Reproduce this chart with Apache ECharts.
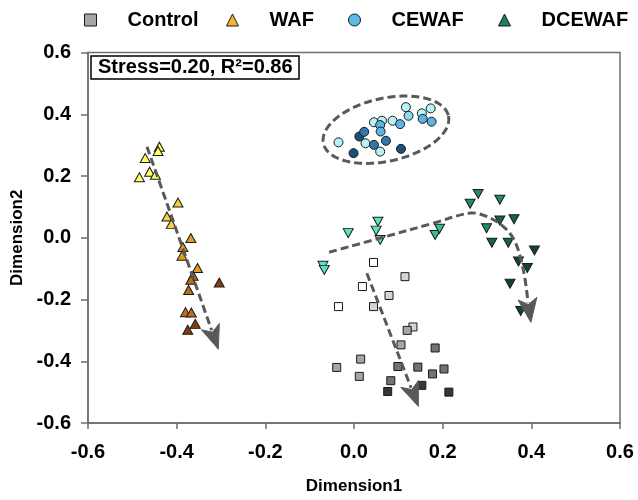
<!DOCTYPE html>
<html><head><meta charset="utf-8">
<script src="https://cdn.jsdelivr.net/npm/echarts@6/dist/echarts.min.js"></script>
<style>html,body{margin:0;padding:0;background:#fff}#c{width:638px;height:500px}</style>
</head><body><div id="c"></div>
<script>
// ---- data ----
const seriesNames = ['Control', 'WAF', 'CEWAF', 'DCEWAF'];
const xTicks = [-0.6, -0.4, -0.2, 0.0, 0.2, 0.4, 0.6];
const yTicks = [-0.6, -0.4, -0.2, 0.0, 0.2, 0.4, 0.6];

const controlX = [0.044,0.115,0.019,0.079,-0.035,0.044,0.133,0.120,0.106,0.183,0.015,-0.039,0.099,0.144,0.012,0.203,0.177,0.083,0.153,0.076,0.214];
const controlY = [-0.080,-0.126,-0.158,-0.187,-0.223,-0.223,-0.289,-0.300,-0.347,-0.357,-0.393,-0.420,-0.417,-0.419,-0.449,-0.425,-0.441,-0.463,-0.478,-0.498,-0.500];
const controlStage = [0,1,0,1,0,1,1,2,2,3,2,2,3,3,2,3,3,3,4,4,4];

const wafX = [-0.439,-0.442,-0.471,-0.461,-0.484,-0.448,-0.397,-0.422,-0.412,-0.368,-0.386,-0.388,-0.353,-0.363,-0.368,-0.373,-0.304,-0.380,-0.367,-0.358,-0.375];
const wafY = [0.295,0.281,0.258,0.214,0.196,0.204,0.114,0.069,0.045,-0.001,-0.030,-0.058,-0.098,-0.123,-0.136,-0.169,-0.145,-0.241,-0.242,-0.279,-0.298];
const wafStage = [0,0,0,0,0,0,1,1,1,2,2,2,2,3,3,3,4,3,3,4,4];

const cewafX = [-0.035,-0.001,0.012,0.023,0.026,0.045,0.059,0.072,0.045,0.063,0.059,0.060,0.087,0.104,0.117,0.123,0.153,0.173,0.155,0.175,0.106];
const cewafY = [0.309,0.274,0.328,0.343,0.306,0.301,0.279,0.314,0.374,0.379,0.365,0.344,0.379,0.368,0.423,0.395,0.403,0.419,0.385,0.376,0.288];
const cewafStage = [0,4,4,3,0,3,0,3,0,0,2,2,0,2,0,1,0,0,2,2,4];

const dcewafX = [-0.070,-0.067,-0.013,0.054,0.050,0.059,0.183,0.193,0.262,0.280,0.329,0.299,0.329,0.361,0.311,0.348,0.407,0.371,0.391,0.352,0.376];
const dcewafY = [-0.091,-0.104,0.015,0.052,0.023,-0.007,0.009,0.029,0.110,0.142,0.123,0.031,0.056,0.060,-0.016,-0.016,-0.041,-0.077,-0.098,-0.149,-0.237];
const dcewafStage = [0,0,0,0,0,0,1,1,2,2,2,2,3,3,3,3,4,4,4,4,4];

// trend arrows (data units)
const wafArrow = [[-0.467,0.295],[-0.306,-0.361]];
const controlArrow = [[0.029,-0.115],[0.145,-0.546]];
const dcewafArrow = [[-0.056,-0.047],[0.059,-0.001],[0.179,0.047],[0.262,0.080],[0.299,0.069],[0.337,0.036],[0.363,-0.012],[0.382,-0.104],[0.399,-0.274]];
const cewafEllipseCenter = [0.072, 0.350];

const stressText = 'Stress=0.20, R\u00B2=0.86';

// ---- styles ----
const palettes = {
  Control: ['#FFFFFF','#D4D4D4','#A6A6A6','#737373','#363636'],
  WAF: ['#FFFF66','#F7CF3A','#E29A22','#BF6D1A','#8A3C0C'],
  CEWAF: ['#B8F1F7','#8ED8F0','#5AB3E0','#2E78AE','#16507C'],
  DCEWAF: ['#5CE3C3','#38BE9A','#1F8C6B','#156448','#0E4634']
};
const legendColors = { Control:'#A6A6A6', WAF:'#F2B630', CEWAF:'#5DBBEA', DCEWAF:'#1E7F5C' };
const FONT = '"Liberation Sans", Arial, sans-serif';

function mk(xs, ys, st, pal) {
  return xs.map((x, i) => ({ value: [x, ys[i]], itemStyle: { color: pal[st[i]] } }));
}

const chart = echarts.init(document.getElementById('c'), null, { renderer: 'canvas' });

function scatter(name, xs, ys, st, symbol, size, rot) {
  return {
    name, type: 'scatter', symbol, symbolSize: size, symbolRotate: rot || 0,
    itemStyle: { color: legendColors[name], borderColor: '#1a1a1a', borderWidth: 1, opacity: 1 },
    emphasis: { disabled: true },
    data: mk(xs, ys, st, palettes[name]), z: 3
  };
}

const legendLefts = [79, 221, 343, 493];
const axisLabelStyle = { fontFamily: FONT, fontWeight: 'bold', fontSize: 20, color: '#000' };
const nameStyle = { fontFamily: FONT, fontWeight: 'bold', fontSize: 17, color: '#000' };

chart.setOption({
  animation: false,
  title: {
    text: stressText, left: 91, top: 56,
    padding: [1, 7, 1, 7], borderColor: '#000', borderWidth: 1.5,
    textStyle: { fontFamily: FONT, fontWeight: 'bold', fontSize: 20, lineHeight: 21, color: '#000' }
  },
  legend: seriesNames.map((n, i) => ({
    data: [{ name: n, itemStyle: { color: legendColors[n], borderColor: '#1a1a1a', borderWidth: 1 } }],
    left: legendLefts[i], top: 5, itemWidth: 12, itemHeight: 12, selectedMode: false,
    textStyle: { fontFamily: FONT, fontWeight: 'bold', fontSize: 20, color: '#000', padding: [0, 0, 0, 26] }
  })),
  grid: { left: 88, right: 18, top: 52.5, bottom: 76.7, show: true, borderColor: '#6e6e6e', borderWidth: 1.5, backgroundColor: 'transparent' },
  xAxis: {
    type: 'value', min: xTicks[0], max: xTicks[xTicks.length - 1], interval: 0.2,
    axisLine: { show: true, onZero: false, lineStyle: { color: '#6e6e6e', width: 1.5 } },
    axisTick: { show: true, length: 6, lineStyle: { color: '#6e6e6e', width: 1.5 } },
    splitLine: { show: false },
    axisLabel: Object.assign({ margin: 19, formatter: v => v.toFixed(1) }, axisLabelStyle),
    name: 'Dimension1', nameLocation: 'middle', nameGap: 55, nameTextStyle: nameStyle
  },
  yAxis: {
    type: 'value', min: yTicks[0], max: yTicks[yTicks.length - 1], interval: 0.2,
    axisLine: { show: true, onZero: false, lineStyle: { color: '#6e6e6e', width: 1.5 } },
    axisTick: { show: true, length: 7, lineStyle: { color: '#6e6e6e', width: 1.5 } },
    splitLine: { show: false },
    axisLabel: Object.assign({ margin: 17, formatter: v => v.toFixed(1) }, axisLabelStyle),
    name: 'Dimension2', nameLocation: 'middle', nameGap: 60, nameTextStyle: nameStyle
  },
  series: [
    scatter('Control', controlX, controlY, controlStage, 'rect', 8),
    scatter('WAF', wafX, wafY, wafStage, 'triangle', [10, 9]),
    scatter('CEWAF', cewafX, cewafY, cewafStage, 'circle', 9),
    scatter('DCEWAF', dcewafX, dcewafY, dcewafStage, 'triangle', [10, 9], 180)
  ]
});

// ---- annotations (arrows + ellipse), positioned through the axes ----
function toPx(p) { return chart.convertToPixel({ xAxisIndex: 0, yAxisIndex: 0 }, p); }
const ARROW_COLOR = '#595959';
function arrowElements(dataPts, smooth) {
  const pts = dataPts.map(toPx);
  const tip = pts[pts.length - 1];
  const prev = pts[pts.length - 2];
  let dx = tip[0] - prev[0], dy = tip[1] - prev[1];
  const len = Math.hypot(dx, dy); dx /= len; dy /= len;
  const L = 24, W = 9.5, N = 6;
  const nx = -dy, ny = dx;
  const lineEnd = [tip[0] - dx * (L - 4), tip[1] - dy * (L - 4)];
  const linePts = pts.slice(0, -1).concat([lineEnd]);
  return [
    { type: 'polyline', z: 20, silent: true,
      shape: { points: linePts, smooth: smooth ? 0.35 : 0 },
      style: { stroke: ARROW_COLOR, lineWidth: 3, lineDash: [8, 4], fill: null } },
    { type: 'polygon', z: 21, silent: true,
      shape: { points: [
        tip,
        [tip[0] - dx * L + nx * W, tip[1] - dy * L + ny * W],
        [tip[0] - dx * (L - N), tip[1] - dy * (L - N)],
        [tip[0] - dx * L - nx * W, tip[1] - dy * L - ny * W]
      ] },
      style: { fill: ARROW_COLOR, stroke: ARROW_COLOR, lineWidth: 1 } }
  ];
}
function ellipseElement(centerData) {
  const c = toPx(centerData);
  const a = 64, b = 31.5, phi = -12.4 * Math.PI / 180;
  const pts = [];
  for (let k = 0; k < 120; k++) {
    const t = k / 120 * Math.PI * 2;
    pts.push([
      c[0] + a * Math.cos(t) * Math.cos(phi) - b * Math.sin(t) * Math.sin(phi),
      c[1] + a * Math.cos(t) * Math.sin(phi) + b * Math.sin(t) * Math.cos(phi)
    ]);
  }
  return { type: 'polygon', z: 20, silent: true, shape: { points: pts },
    style: { fill: null, stroke: ARROW_COLOR, lineWidth: 3, lineDash: [8, 4] } };
}

chart.setOption({
  graphic: [].concat(
    arrowElements(wafArrow, false),
    arrowElements(controlArrow, false),
    arrowElements(dcewafArrow, true),
    [ellipseElement(cewafEllipseCenter)]
  )
});
</script>
</body></html>
